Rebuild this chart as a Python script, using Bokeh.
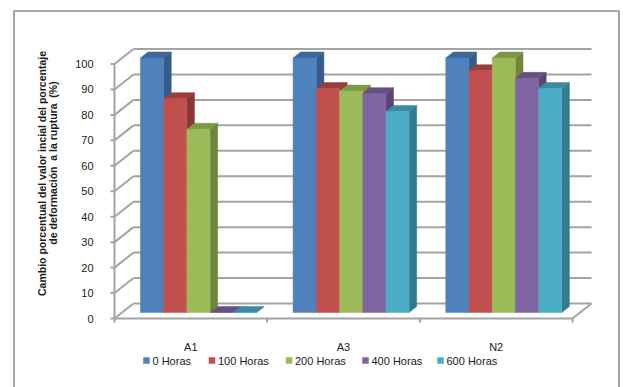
import math
from bokeh.plotting import figure
from bokeh.models import Range1d, ColumnDataSource
from bokeh.core.properties import value
from bokeh.embed import file_html
from bokeh.resources import INLINE

# ---- data ----
categories = ["A1", "A3", "N2"]
series_names = ["0 Horas", "100 Horas", "200 Horas", "400 Horas", "600 Horas"]
h0 = [100, 100, 100]
h100 = [84, 88, 95]
h200 = [72, 87, 100]
h400 = [0, 86, 92]
h600 = [0, 79, 88]
y_ticks = [0, 10, 20, 30, 40, 50, 60, 70, 80, 90, 100]
y_tick_labels = [str(t) for t in y_ticks]
# non-breaking spaces keep the wider gaps from collapsing in SVG text
y_title_1 = "Cambio porcentual del valor incial del porcentaje"
y_title_2 = "de deformación\u00a0 a la ruptura\u00a0 (%)"

series_values = [h0, h100, h200, h400, h600]
front_colors = ["#4F81BD", "#C0504D", "#9BBB59", "#8064A2", "#4BACC6"]
top_colors = ["#3E6798", "#9A3E3B", "#7D9848", "#664F83", "#3B8AA0"]
side_colors = ["#375A86", "#873634", "#6D853F", "#594572", "#347A8C"]

FONT = "Liberation Sans"
GRID = "#a3a3a3"
TEXT = "#1a1a1a"
W, H = 623, 387

# front plane: x=0 at the value axis, one unit per category; y in percent
ORIGIN_X, ORIGIN_Y = 114, 318          # canvas pixel of the (0, 0) corner
PX_X = 152.67                          # pixels per category
PX_Y = 2.545                           # pixels per percent
# floor depth (offset of the back wall) in pixels
DEPTH_DX, DEPTH_DY = 19.0, 15.0
ddx, ddy = DEPTH_DX / PX_X, DEPTH_DY / PX_Y
# bars sit between these fractions of the floor depth
F0, F1 = 0.4, 0.8
GAP = 0.12
BAR_W = (1 - 2 * GAP) / len(series_names)


def sx(px):
    """canvas pixel column -> data x"""
    return (px - ORIGIN_X) / PX_X


def sy(py):
    """canvas pixel row -> data y"""
    return (ORIGIN_Y - py) / PX_Y


p = figure(width=W, height=H, output_backend="svg", toolbar_location=None,
           x_axis_type=None, y_axis_type=None, min_border=0,
           x_range=Range1d(sx(0), sx(W)), y_range=Range1d(sy(H), sy(0)))
p.outline_line_color = None
p.grid.visible = False
p.background_fill_color = "white"
p.border_fill_color = "white"

ncat = len(categories)

# outer chart-area border (open at the bottom)
p.line(x=[sx(13.5), sx(13.5), sx(618.5), sx(618.5)],
       y=[sy(H + 5), sy(10.5), sy(10.5), sy(H + 5)],
       line_color="#a6a6a6", line_width=2)

# back wall gridlines and the left wall diagonals
gy = [v + ddy for v in y_ticks]
p.segment(x0=[ddx] * len(y_ticks), y0=gy, x1=[ncat + ddx] * len(y_ticks), y1=gy,
          line_color=GRID, line_width=2)
p.segment(x0=[0] * len(y_ticks), y0=y_ticks, x1=[ddx] * len(y_ticks), y1=gy,
          line_color=GRID, line_width=2)
# floor: right edge
p.segment(x0=[ncat], y0=[0], x1=[ncat + ddx], y1=[ddy], line_color=GRID, line_width=2)

# 3-D bars
for si, vals in enumerate(series_values):
    fronts = dict(left=[], right=[], bottom=[], top=[])
    tops_x, tops_y, sides_x, sides_y = [], [], [], []
    for ci, v in enumerate(vals):
        x0 = ci + GAP + si * BAR_W
        ax, ay = F0 * ddx, F0 * ddy
        bx, by = F1 * ddx, F1 * ddy
        fronts["left"].append(x0 + ax)
        fronts["right"].append(x0 + BAR_W + ax)
        fronts["bottom"].append(ay)
        fronts["top"].append(ay + v)
        tops_x.append([x0 + ax, x0 + BAR_W + ax, x0 + BAR_W + bx, x0 + bx])
        tops_y.append([ay + v, ay + v, by + v, by + v])
        sides_x.append([x0 + BAR_W + ax, x0 + BAR_W + bx, x0 + BAR_W + bx, x0 + BAR_W + ax])
        sides_y.append([ay, by, by + v, ay + v])
    p.patches(xs=sides_x, ys=sides_y, fill_color=side_colors[si], line_color=side_colors[si],
              line_width=0.5)
    p.patches(xs=tops_x, ys=tops_y, fill_color=top_colors[si], line_color=top_colors[si],
              line_width=0.5)
    p.quad(source=ColumnDataSource(fronts), left="left", right="right",
           bottom="bottom", top="top", fill_color=front_colors[si],
           line_color=front_colors[si], line_width=0.5)

# value axis along the front-left edge
TICK = 4 / PX_X
p.segment(x0=[0], y0=[0], x1=[0], y1=[max(y_ticks)], line_color=GRID, line_width=2)
p.segment(x0=[0] * len(y_ticks), y0=y_ticks, x1=[-TICK] * len(y_ticks), y1=y_ticks,
          line_color=GRID, line_width=2)
p.text(x=[-21 / PX_X] * len(y_ticks), y=y_ticks, text=y_tick_labels,
       text_align="right", text_baseline="middle", text_font=value(FONT),
       text_font_size=value("11px"), text_color=TEXT)

# category axis along the front floor edge
bounds = list(range(ncat + 1))
p.segment(x0=[0], y0=[0], x1=[ncat], y1=[0], line_color=GRID, line_width=2)
p.segment(x0=bounds, y0=[0] * len(bounds), x1=bounds, y1=[-4 / PX_Y] * len(bounds),
          line_color=GRID, line_width=2)
p.text(x=[i + 0.5 for i in range(ncat)], y=[sy(346)] * ncat, text=categories,
       text_align="center", text_baseline="middle", text_font=value(FONT),
       text_font_size=value("11px"), text_color=TEXT)

# legend row
legend_px = [146, 211.5, 288.5, 365, 440]
p.scatter(x=[sx(v) for v in legend_px], y=[sy(360)] * len(legend_px), marker="square",
          size=6.5, fill_color=front_colors, line_color=None)
p.text(x=[sx(v + 6) for v in legend_px], y=[sy(360.5)] * len(legend_px), text=series_names,
       text_align="left", text_baseline="middle", text_font=value(FONT),
       text_font_size=value("11px"), text_color=TEXT)

# two-line rotated value-axis title
p.text(x=[sx(41), sx(52)], y=[sy(173), sy(162.5)], text=[y_title_1, y_title_2],
       angle=math.pi / 2, text_align="center", text_baseline="middle",
       text_font=value(FONT), text_font_style="bold",
       text_font_size=value("10.5px"), text_color=TEXT)

open("out.html", "w").write(file_html(p, INLINE))
